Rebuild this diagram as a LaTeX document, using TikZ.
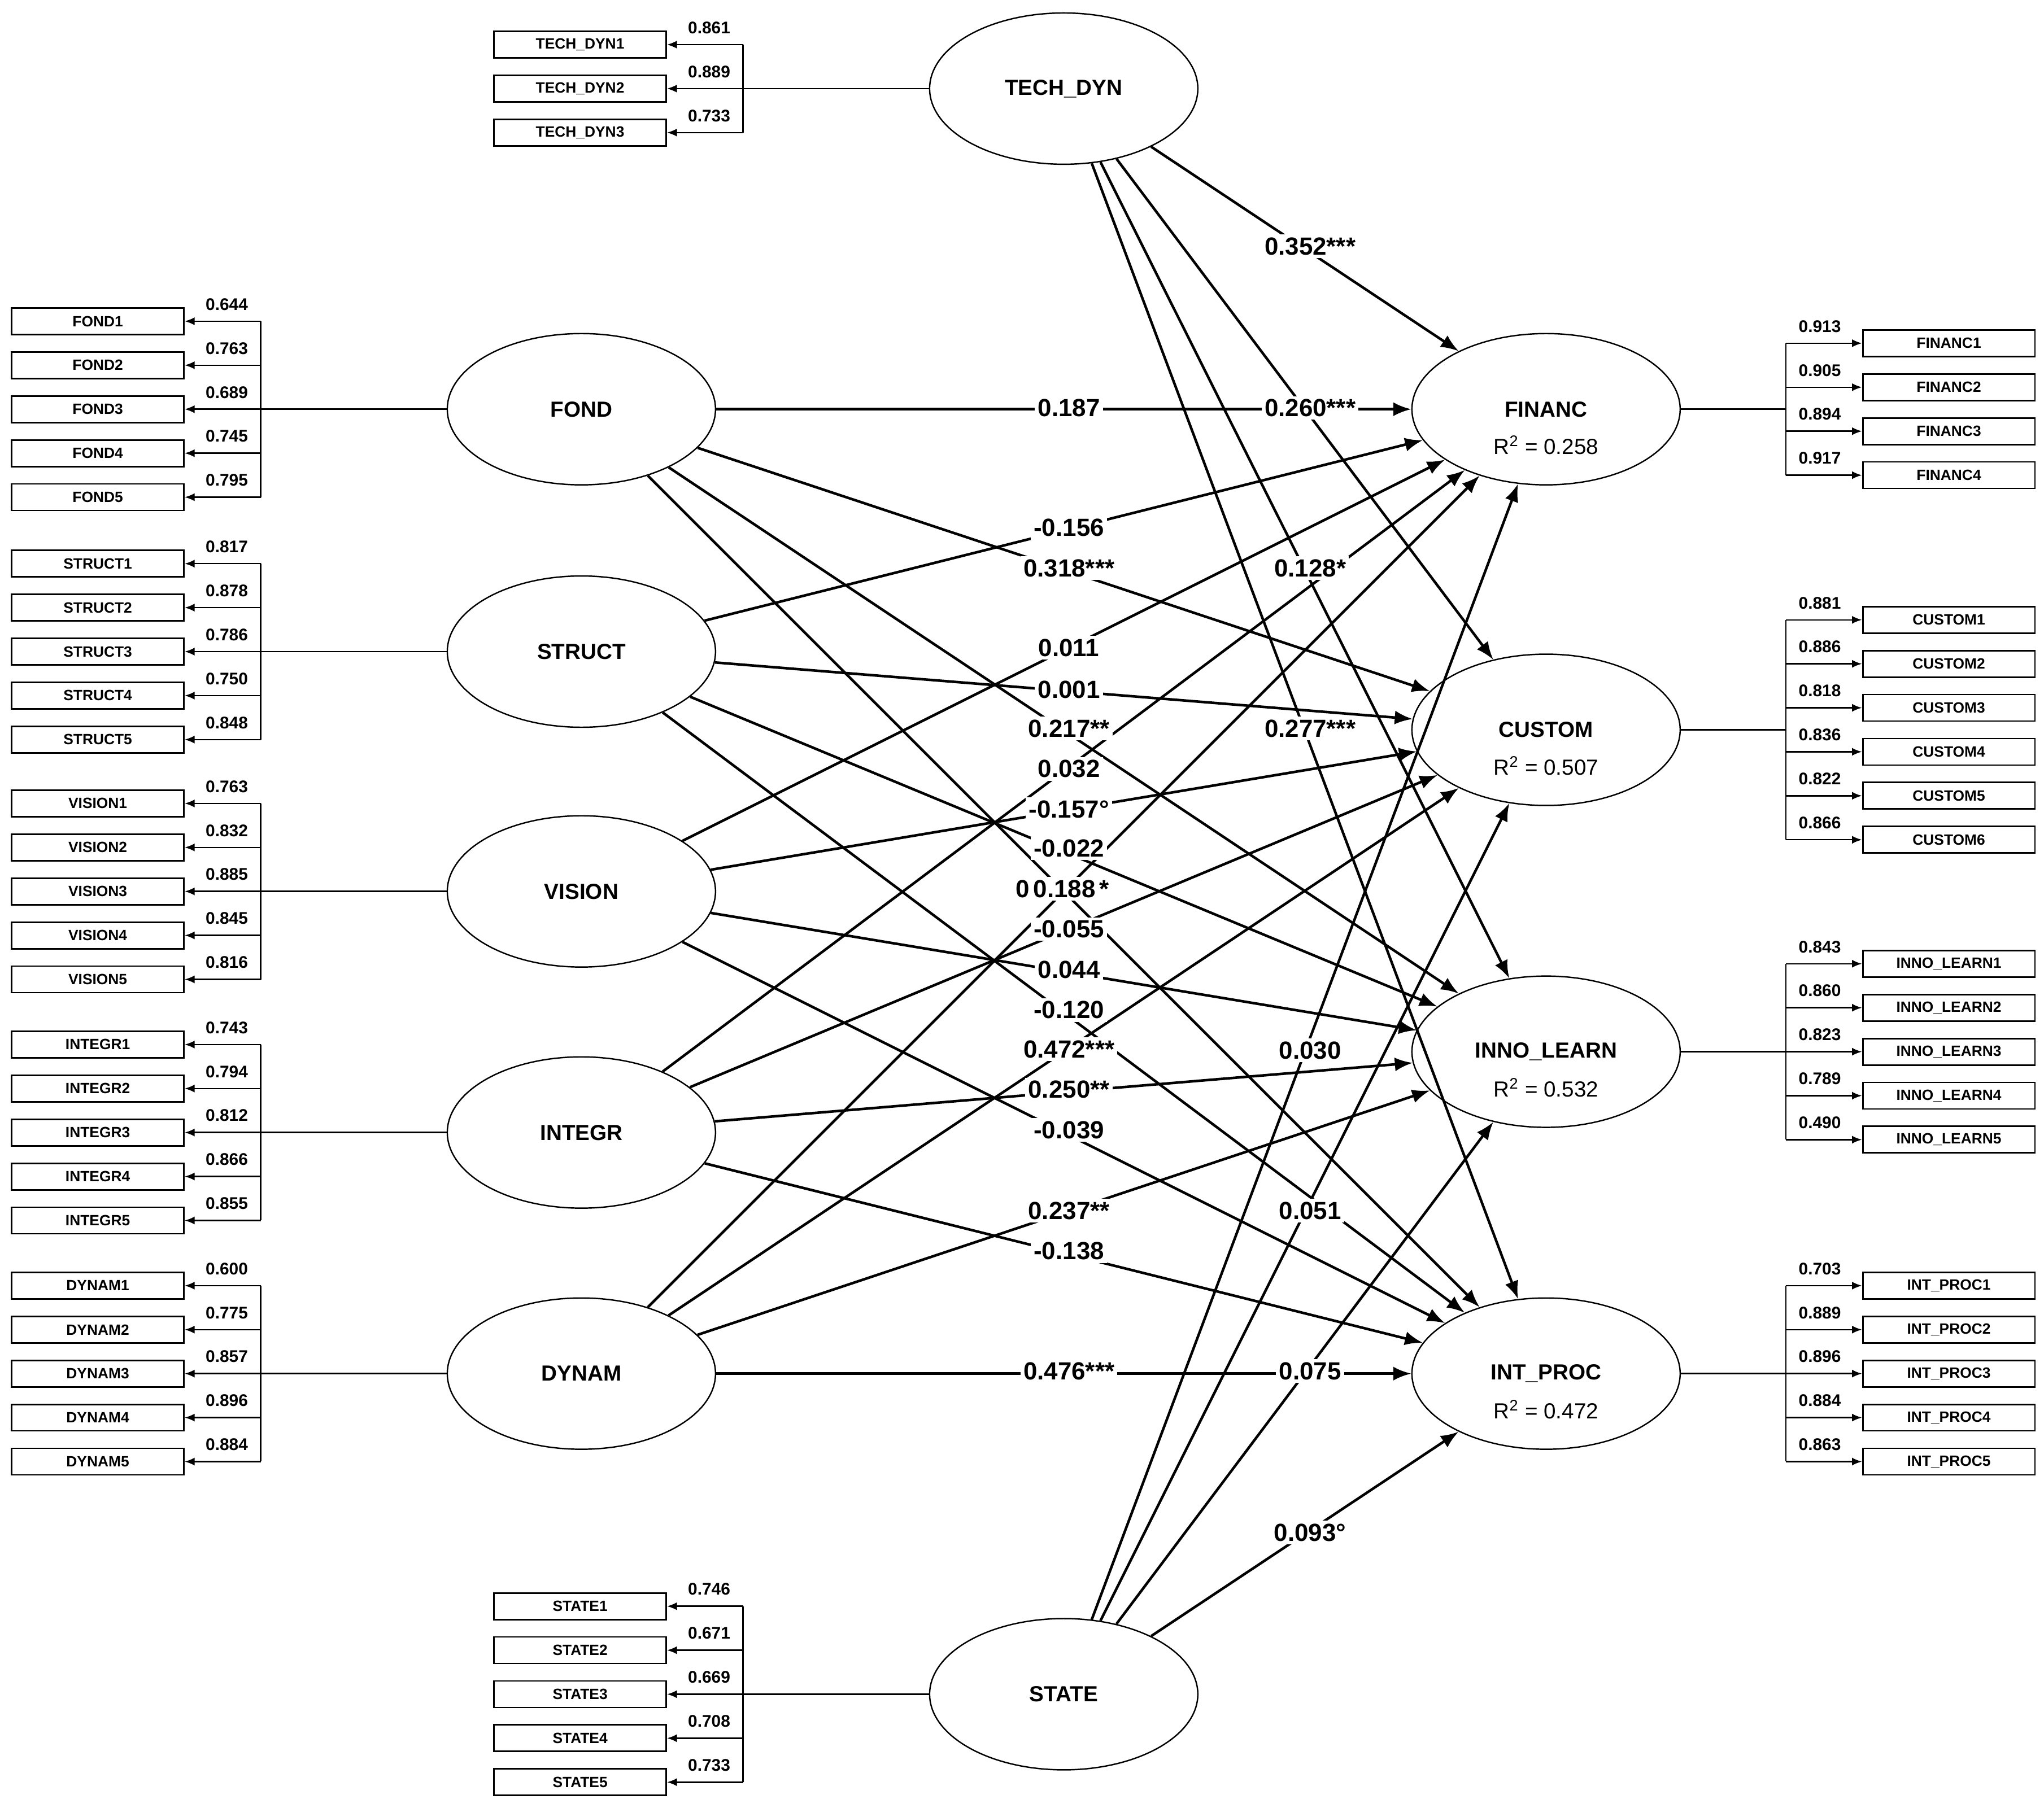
\documentclass[tikz,border=0pt]{standalone}
\usepackage{fontspec}
\setmainfont{Liberation Sans}
\usetikzlibrary{arrows.meta,shapes.geometric}
\begin{document}
\begin{tikzpicture}[x=0.02308cm,y=-0.02308cm,
  lat/.style={draw,ellipse,line width=0.7pt,minimum width=4.75cm,minimum height=2.68cm,font=\bfseries\fontsize{11}{13}\selectfont,align=center},
  rsq/.style={font=\fontsize{11}{13}\selectfont,inner sep=0pt},
  box/.style={draw,line width=0.8pt,minimum width=3.05cm,minimum height=0.47cm,inner sep=0pt,font=\bfseries\fontsize{7.5}{8}\selectfont},
  ind/.style={line width=0.7pt},
  load/.style={font=\bfseries\fontsize{8.5}{9}\selectfont,inner sep=0pt},
  pth/.style={line width=1.3pt,-{Latex[length=9pt,width=7pt]}},
  coef/.style={fill=white,inner sep=1.5pt,font=\bfseries\fontsize{12.5}{14}\selectfont}]
\useasboundingbox (0,0) rectangle (1568,1387);
% latent variables
\node[lat] (td) at (816,68) {TECH\_DYN};
\node[lat] (fond) at (446,314) {FOND};
\node[lat] (struct) at (446,500) {STRUCT};
\node[lat] (vision) at (446,684) {VISION};
\node[lat] (integr) at (446,869) {INTEGR};
\node[lat] (dynam) at (446,1054) {DYNAM};
\node[lat] (state) at (816,1300) {STATE};
\node[lat] (fin) at (1186,314) {FINANC};
\node[lat] (cus) at (1186,560) {CUSTOM};
\node[lat] (inno) at (1186,807) {INNO\_LEARN};
\node[lat] (intp) at (1186,1054) {INT\_PROC};
\node[rsq] (fin-r) at ([yshift=-0.64cm]fin.center) {R\textsuperscript{2} = 0.258};
\node[rsq] (cus-r) at ([yshift=-0.64cm]cus.center) {R\textsuperscript{2} = 0.507};
\node[rsq] (inno-r) at ([yshift=-0.64cm]inno.center) {R\textsuperscript{2} = 0.532};
\node[rsq] (intp-r) at ([yshift=-0.64cm]intp.center) {R\textsuperscript{2} = 0.472};
% left measurement
\foreach \c/\nm/\yc/\loads in {fond/FOND/314/{0.644,0.763,0.689,0.745,0.795},
  struct/STRUCT/500/{0.817,0.878,0.786,0.750,0.848},
  vision/VISION/684/{0.763,0.832,0.885,0.845,0.816},
  integr/INTEGR/869/{0.743,0.794,0.812,0.866,0.855},
  dynam/DYNAM/1054/{0.600,0.775,0.857,0.896,0.884}}{
  \coordinate (\c-bar) at (200,\yc);
  \draw[ind] (\c) -- (\c-bar);
  \foreach \l [count=\i] in \loads {
    \pgfmathsetmacro\yy{\yc+(\i-3)*33.75}
    \node[box] (\c-b\i) at (75,\yy) {\nm\i};
    \coordinate (\c-t\i) at (200,\yy);
    \draw[ind,-{Latex[length=5pt,width=4pt]}] (\c-t\i) -- (\c-b\i);
    \node[load] at (174,\yy-13) {\l};
  }
  \draw[ind] (\c-t1) -- (\c-t5);
}
% top and bottom measurement
\foreach \c/\nm/\yc/\n/\loads in {td/TECH\_DYN/68/3/{0.861,0.889,0.733},
  state/STATE/1300/5/{0.746,0.671,0.669,0.708,0.733}}{
  \coordinate (\c-bar) at (570,\yc);
  \draw[ind] (\c) -- (\c-bar);
  \foreach \l [count=\i] in \loads {
    \pgfmathsetmacro\yy{\yc+(\i-(\n+1)/2)*33.75}
    \node[box] (\c-b\i) at (445,\yy) {\nm\i};
    \coordinate (\c-t\i) at (570,\yy);
    \draw[ind,-{Latex[length=5pt,width=4pt]}] (\c-t\i) -- (\c-b\i);
    \node[load] at (544,\yy-13) {\l};
  }
  \draw[ind] (\c-t1) -- (\c-t\n);
}
% right measurement
\foreach \c/\nm/\yc/\n/\loads in {fin/FINANC/314/4/{0.913,0.905,0.894,0.917},
  cus/CUSTOM/560/6/{0.881,0.886,0.818,0.836,0.822,0.866},
  inno/INNO\_LEARN/807/5/{0.843,0.860,0.823,0.789,0.490},
  intp/INT\_PROC/1054/5/{0.703,0.889,0.896,0.884,0.863}}{
  \coordinate (\c-bar) at (1370,\yc);
  \draw[ind] (\c) -- (\c-bar);
  \foreach \l [count=\i] in \loads {
    \pgfmathsetmacro\yy{\yc+(\i-(\n+1)/2)*33.75}
    \node[box] (\c-b\i) at (1495,\yy) {\nm\i};
    \coordinate (\c-t\i) at (1370,\yy);
    \draw[ind,-{Latex[length=5pt,width=4pt]}] (\c-t\i) -- (\c-b\i);
    \node[load] at (1396,\yy-13) {\l};
  }
  \draw[ind] (\c-t1) -- (\c-t\n);
}
% structural paths
\foreach \s in {td,fond,struct,vision,integr,dynam,state}
  \foreach \t in {fin,cus,inno,intp}
    \draw[pth] (\s) -- (\t);
% coefficients
\foreach \x/\y/\t in {1005/189/{0.352***},820/313/{0.187},1005/313/{0.260***},
  820/405/{-0.156},820/436/{0.318***},1005/436/{0.128*},
  820/497/{0.011},820/529/{0.001},820/559/{0.217**},1005/559/{0.277***},
  820/590/{0.032},820/621/{-0.157°},820/651/{-0.022},815/682/{0\,0.188\,*},
  820/713/{-0.055},820/744/{0.044},820/775/{-0.120},820/805/{0.472***},
  820/836/{0.250**},820/867/{-0.039},820/929/{0.237**},820/960/{-0.138},
  820/1052/{0.476***},1005/806/{0.030},1005/929/{0.051},1005/1052/{0.075},
  1005/1176/{0.093°}}
  \node[coef] at (\x,\y) {\t};
\end{tikzpicture}
\end{document}
